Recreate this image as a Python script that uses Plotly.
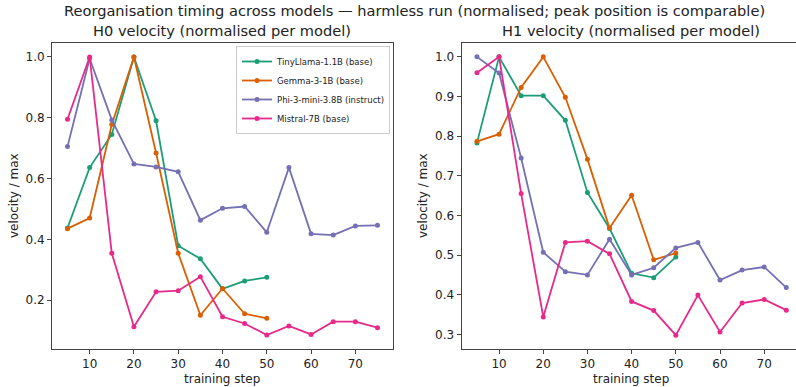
import plotly.graph_objects as go

steps = [5, 10, 15, 20, 25, 30, 35, 40, 45, 50, 55, 60, 65, 70, 75]
models = ["TinyLlama-1.1B (base)", "Gemma-3-1B (base)", "Phi-3-mini-3.8B (instruct)", "Mistral-7B (base)"]
colors = ["#1b9e77", "#d95f02", "#7570b3", "#e7298a"]

h0_tinyllama = [0.437, 0.636, 0.745, 1.0, 0.790, 0.379, 0.336, 0.237, 0.263, 0.275]
h0_gemma = [0.435, 0.470, 0.778, 1.0, 0.684, 0.354, 0.150, 0.238, 0.155, 0.140]
h0_phi = [0.705, 0.995, 0.793, 0.648, 0.638, 0.622, 0.463, 0.502, 0.508, 0.423, 0.636, 0.418, 0.414, 0.444, 0.446]
h0_mistral = [0.795, 1.0, 0.354, 0.112, 0.227, 0.231, 0.277, 0.145, 0.123, 0.085, 0.115, 0.087, 0.129, 0.129, 0.109]

h1_tinyllama = [0.783, 1.0, 0.902, 0.902, 0.840, 0.658, 0.567, 0.454, 0.443, 0.495]
h1_gemma = [0.787, 0.805, 0.923, 1.0, 0.898, 0.742, 0.568, 0.651, 0.488, 0.505]
h1_phi = [1.0, 0.959, 0.745, 0.507, 0.458, 0.450, 0.540, 0.450, 0.468, 0.518, 0.532, 0.437, 0.462, 0.470, 0.418]
h1_mistral = [0.960, 1.0, 0.655, 0.344, 0.532, 0.535, 0.503, 0.383, 0.360, 0.298, 0.399, 0.306, 0.379, 0.388, 0.361]

h0 = [h0_tinyllama, h0_gemma, h0_phi, h0_mistral]
h1 = [h1_tinyllama, h1_gemma, h1_phi, h1_mistral]

FONT = "DejaVu Sans"
W, H = 796, 387
TICK = 12
TITLE = 14.6

fig = go.Figure()
for i, (name, col) in enumerate(zip(models, colors)):
    fig.add_trace(go.Scatter(x=steps[:len(h0[i])], y=h0[i], mode="lines+markers", name=name,
                             line=dict(color=col, width=1.8), marker=dict(color=col, size=5),
                             xaxis="x", yaxis="y", legendgroup=name))
for i, (name, col) in enumerate(zip(models, colors)):
    fig.add_trace(go.Scatter(x=steps[:len(h1[i])], y=h1[i], mode="lines+markers", name=name,
                             line=dict(color=col, width=1.8), marker=dict(color=col, size=5),
                             xaxis="x2", yaxis="y2", legendgroup=name, showlegend=False))

ydom = [38 / H, 344 / H]
axcommon = dict(showgrid=False, zeroline=False, showline=True, linecolor="#444", linewidth=1,
                ticks="outside", ticklen=4, tickcolor="#444", tickwidth=1,
                tickfont=dict(family=FONT, size=TICK, color="#222"))

fig.update_layout(
    width=W, height=H, margin=dict(l=0, r=0, t=0, b=0),
    paper_bgcolor="white", plot_bgcolor="white",
    font=dict(family=FONT, color="#222"),
    xaxis=dict(domain=[52 / W, 393 / W], range=[1.5, 78.5], tickvals=[10, 20, 30, 40, 50, 60, 70],
               mirror=True, anchor="y", **axcommon),
    yaxis=dict(domain=ydom, range=[0.039, 1.046], tickvals=[0.2, 0.4, 0.6, 0.8, 1.0], tickformat=".1f",
               mirror=True, anchor="x", **axcommon),
    xaxis2=dict(domain=[461.5 / W, 1.0], range=[1.5, 77.2], tickvals=[10, 20, 30, 40, 50, 60, 70],
                mirror=True, anchor="y2", **axcommon),
    yaxis2=dict(domain=ydom, range=[0.263, 1.035], tickvals=[0.3, 0.4, 0.5, 0.6, 0.7, 0.8, 0.9, 1.0],
                tickformat=".1f", mirror=False, anchor="x2", **axcommon),
    legend=dict(x=390 / W, y=(H - 46) / H, xanchor="right", yanchor="top",
                bgcolor="rgba(255,255,255,0.8)", bordercolor="#ccc", borderwidth=1,
                font=dict(family=FONT, size=8.5, color="#222"), tracegroupgap=0,
                itemwidth=30),
    showlegend=True,
)

ann = [
    dict(text="Reorganisation timing across models — harmless run (normalised; peak position is comparable)",
         x=415 / W, y=(H - 11) / H, size=TITLE),
    dict(text="H0 velocity (normalised per model)", x=222.5 / W, y=(H - 31) / H, size=TITLE),
    dict(text="H1 velocity (normalised per model)", x=631 / W, y=(H - 31) / H, size=TITLE),
    dict(text="training step", x=222.5 / W, y=(H - 379) / H, size=TICK),
    dict(text="training step", x=631 / W, y=(H - 379) / H, size=TICK),
]
for a in ann:
    fig.add_annotation(text=a["text"], x=a["x"], y=a["y"], xref="paper", yref="paper",
                       showarrow=False, xanchor="center", yanchor="middle",
                       font=dict(family=FONT, size=a["size"], color="#222"))
for xc in [14, 423]:
    fig.add_annotation(text="velocity / max", x=xc / W, y=(H - 196) / H, xref="paper", yref="paper",
                       showarrow=False, xanchor="center", yanchor="middle", textangle=-90,
                       font=dict(family=FONT, size=TICK, color="#222"))

fig.write_html("out.html")
